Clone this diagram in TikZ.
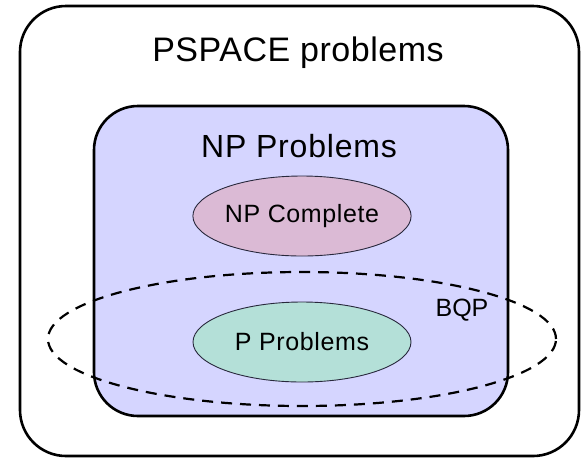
\documentclass[tikz,border=0pt]{standalone}
\usepackage{fontspec}
\setmainfont{Liberation Sans}
\usetikzlibrary{shapes.geometric}
\definecolor{npfill}{RGB}{213,213,255}
\definecolor{npcfill}{RGB}{219,186,213}
\definecolor{pfill}{RGB}{180,224,216}
\definecolor{edge}{RGB}{40,40,60}
\tikzset{
  region/.style={draw=black, line width=2.6pt, rounded corners=46pt, inner sep=0pt},
  classoval/.style={ellipse, draw=edge, line width=0.9pt, inner sep=0pt,
    minimum width=218pt, minimum height=80pt,
    font=\fontsize{25}{29}\selectfont\addfontfeature{LetterSpace=2.5}},
  title/.style={inner sep=0pt, font=\fontsize{34}{39}\selectfont\addfontfeature{LetterSpace=1.5}},
}
\begin{document}
\begin{tikzpicture}[x=1pt,y=-1pt]
\useasboundingbox (0,0) rectangle (586,459);
% PSPACE container
\node[region, minimum width=559pt, minimum height=450pt] (pspace) at (299.5,231) {};
% NP container
\node[region, fill=npfill, rounded corners=44pt, minimum width=414pt, minimum height=310pt] (np) at (301,261) {};
% classes inside NP
\node[classoval, fill=npcfill] (npc) at (302,216) {NP Complete};
\node[classoval, fill=pfill] (p) at (302,342) {P Problems};
% BQP boundary
\node[ellipse, draw=black, line width=2.2pt, dash pattern=on 11pt off 8pt,
  minimum width=508pt, minimum height=134pt, inner sep=0pt] (bqp) at (302,339) {};
% labels
\node[title, anchor=base] (pspacelbl) at (298,61) {PSPACE problems};
\node[title, anchor=base, font=\fontsize{32}{37}\selectfont\addfontfeature{LetterSpace=2.5}] (nplbl) at (299,157) {NP Problems};
\node[inner sep=0pt, anchor=base, font=\fontsize{25}{29}\selectfont] (bqplbl) at (462,316) {BQP};
\end{tikzpicture}
\end{document}
